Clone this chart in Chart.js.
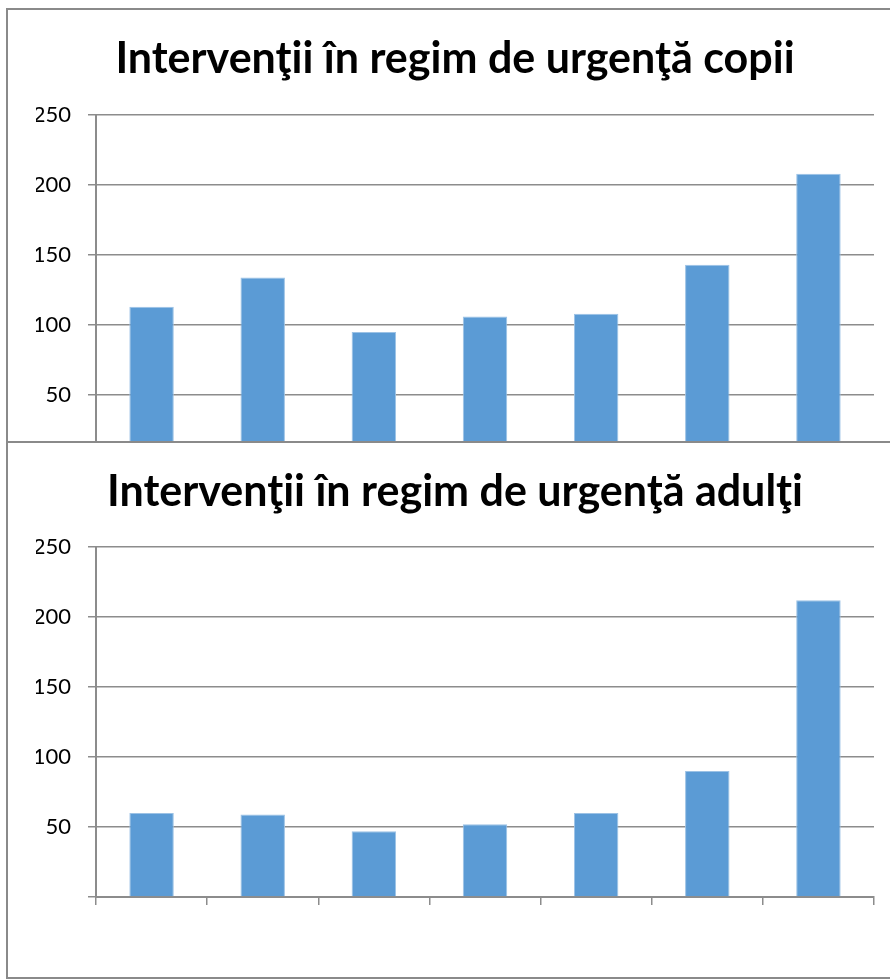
<!DOCTYPE html>
<html>
<head>
<meta charset="utf-8">
<script src="https://cdn.jsdelivr.net/npm/chart.js@4.4.1/dist/chart.umd.min.js"></script>
<style>
    html, body { margin: 0; padding: 0; background: #fff; overflow: hidden; width: 890px; height: 979px; }
    .frame { position: absolute; border: 2px solid #8a8a8a; box-sizing: content-box; }
    canvas { position: absolute; left: 0; }
</style>
</head>
<body>
<div style="position:absolute;left:0;top:0;width:890px;height:441px;overflow:hidden">
    <div class="frame" style="left:6px;top:8px;width:1000px;height:500px"></div>
    <canvas id="chart-copii" width="890" height="500" style="top:0"></canvas>
</div>
<div class="frame" style="left:6px;top:441px;width:1000px;height:534px;background:#fff"></div>
<canvas id="chart-adulti" width="890" height="538" style="top:441px"></canvas>

<script>
// Data (7 unlabelled categories)
const categories = ['', '', '', '', '', '', ''];
const copiiValues = [113, 134, 95, 106, 108, 143, 208];
const adultiValues = [60, 59, 47, 52, 60, 90, 212];
const yTicks = [0, 50, 100, 150, 200, 250];

const titleCopii = 'Intervenţii în regim de urgenţă copii';
const titleAdulti = 'Intervenţii în regim de urgenţă adulţi';

const gridColor = '#8c8c8c';
const barColor = '#5b9bd5';

function makeChart(canvasId, values, title, titlePad, xAxisHeight) {
    const ctx = document.getElementById(canvasId).getContext('2d');
    return new Chart(ctx, {
        type: 'bar',
        data: {
            labels: categories,
            datasets: [{
                data: values,
                backgroundColor: barColor,
                borderColor: '#9cc2e5',
                borderWidth: 1,
                barPercentage: 0.4,
                categoryPercentage: 1
            }]
        },
        options: {
            responsive: false,
            animation: false,
            // left padding centres the title like the wider original frame
            layout: { padding: { left: 36, right: 16, top: 0, bottom: 0 } },
            plugins: {
                legend: { display: false },
                tooltip: { enabled: false },
                title: {
                    display: true,
                    text: title,
                    color: '#000',
                    font: { family: 'Lato', size: 43, weight: 'bold', lineHeight: 1.2 },
                    padding: titlePad
                }
            },
            scales: {
                x: {
                    grid: {
                        display: true,
                        drawOnChartArea: false,
                        drawTicks: true,
                        tickLength: 8,
                        color: gridColor,
                        lineWidth: 1.5
                    },
                    border: { color: gridColor, width: 2 },
                    ticks: { display: true },
                    afterFit: scale => { scale.height = xAxisHeight; }
                },
                y: {
                    min: yTicks[0],
                    max: yTicks[yTicks.length - 1],
                    afterBuildTicks: scale => {
                        scale.ticks = yTicks.map(v => ({ value: v }));
                    },
                    ticks: {
                        color: '#000',
                        padding: 17,
                        font: { family: 'Lato', size: 22 },
                        callback: v => (v === 0 ? '' : v)
                    },
                    grid: {
                        color: gridColor,
                        lineWidth: 1.5,
                        tickLength: 8
                    },
                    border: { color: gridColor, width: 2 },
                    afterFit: scale => { scale.width = 60; }
                }
            }
        }
    });
}

makeChart('chart-copii', copiiValues, titleCopii, { top: 33, bottom: 30.4 }, 35);
makeChart('chart-adulti', adultiValues, titleAdulti, { top: 25, bottom: 29.4 }, 82);
</script>
</body>
</html>
